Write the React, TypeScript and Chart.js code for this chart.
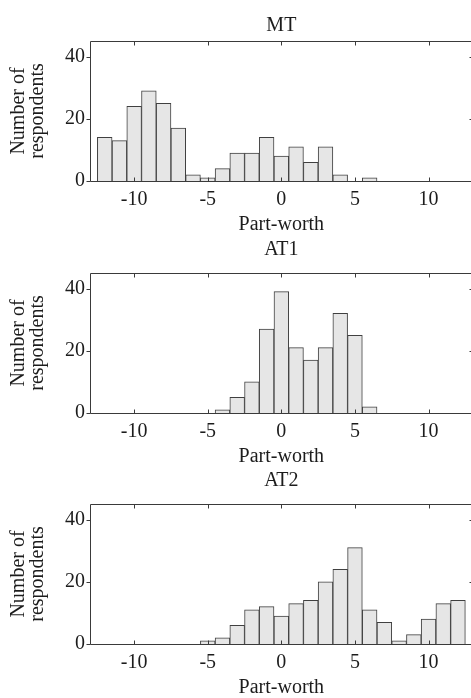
import React, { useEffect, useRef } from 'react';
import { Chart, registerables } from 'chart.js';

Chart.register(...registerables);

// Bin centres (part-worth) and respondent counts per panel
const BINS = [-12, -11, -10, -9, -8, -7, -6, -5, -4, -3, -2, -1, 0, 1, 2, 3, 4, 5, 6, 7, 8, 9, 10, 11, 12];
const MT_COUNTS = [14, 13, 24, 29, 25, 17, 2, 1, 4, 9, 9, 14, 8, 11, 6, 11, 2, 0, 1, 0, 0, 0, 0, 0, 0];
const AT1_COUNTS = [0, 0, 0, 0, 0, 0, 0, 0, 1, 5, 10, 27, 39, 21, 17, 21, 32, 25, 2, 0, 0, 0, 0, 0, 0];
const AT2_COUNTS = [0, 0, 0, 0, 0, 0, 0, 1, 2, 6, 11, 12, 9, 13, 14, 20, 24, 31, 11, 7, 1, 3, 8, 13, 14];

const PANEL_TITLES = ['MT', 'AT1', 'AT2'];
const X_TICKS = [-10, -5, 0, 5, 10];
const Y_TICKS = [0, 20, 40];
const X_LABEL = 'Part-worth';
const Y_LABEL = ['Number of', 'respondents'];

const FONT = 'Liberation Serif';
const TEXT = '#1c1c1c';

const framePlugin = {
  id: 'frame',
  afterDatasetsDraw(chart: any) {
    const { ctx, chartArea, scales } = chart;
    const { left, right, top, bottom } = chartArea;
    const x = scales.x;
    const y = scales.y;
    ctx.save();
    ctx.strokeStyle = '#3a3a3a';
    ctx.lineWidth = 1;
    const line = (x1: number, y1: number, x2: number, y2: number) => {
      ctx.beginPath();
      ctx.moveTo(x1, y1);
      ctx.lineTo(x2, y2);
      ctx.stroke();
    };
    const L = Math.round(left) + 0.5;
    const R = Math.round(right) + 0.5;
    const T = Math.round(top) + 0.5;
    const B = Math.round(bottom) + 0.5;
    line(L, T, R, T);
    line(L, B, R, B);
    line(L, T, L, B);
    line(R, T, R, B);
    X_TICKS.forEach((v) => {
      const px = Math.round(x.getPixelForValue(v)) + 0.5;
      line(px, B, px, B - 4);
      line(px, T, px, T + 4);
    });
    Y_TICKS.forEach((v) => {
      const py = Math.round(y.getPixelForValue(v)) + 0.5;
      line(L - 4, py, L, py);
      line(R, py, R - 4, py);
    });
    ctx.restore();
  },
};

function Panel({ title, counts, top, titlePad }: { title: string; counts: number[]; top: number; titlePad: { top: number; bottom: number } }) {
  const ref = useRef<HTMLCanvasElement | null>(null);
  useEffect(() => {
    if (!ref.current) return;
    const chart = new Chart(ref.current, {
      type: 'bar',
      data: {
        datasets: [
          {
            data: BINS.map((b, i) => ({ x: b, y: counts[i] })),
            backgroundColor: '#e6e6e6',
            borderColor: '#404040',
            borderWidth: 1,
            borderSkipped: 'start',
            barPercentage: 1,
            categoryPercentage: 1,
          } as any,
        ],
      },
      options: {
        responsive: false,
        animation: false,
        events: [],
        layout: { padding: { left: 0, right: 7.3, top: 0, bottom: 0 } },
        plugins: {
          legend: { display: false },
          tooltip: { enabled: false },
          title: {
            display: true,
            fullSize: false,
            text: title,
            color: TEXT,
            font: { family: FONT, size: 20, weight: 'normal', lineHeight: 1.2 },
            padding: titlePad,
          },
        },
        scales: {
          x: {
            type: 'linear',
            min: -13,
            max: 13,
            offset: false,
            grid: { display: false, drawTicks: false },
            border: { display: false },
            afterBuildTicks: (s: any) => {
              s.ticks = X_TICKS.map((v) => ({ value: v }));
            },
            afterFit: (s: any) => {
              s.height = 57;
            },
            ticks: {
              color: TEXT,
              padding: 7,
              maxRotation: 0,
              font: { family: FONT, size: 20, lineHeight: 1.2 },
              callback: (v: any) => String(v),
            },
            title: {
              display: true,
              text: X_LABEL,
              color: TEXT,
              font: { family: FONT, size: 20, lineHeight: 1.2 },
              padding: { top: 0, bottom: 1.5 },
            },
          },
          y: {
            type: 'linear',
            min: 0,
            max: 45,
            grid: { display: false, drawTicks: false },
            border: { display: false },
            afterBuildTicks: (s: any) => {
              s.ticks = Y_TICKS.map((v) => ({ value: v }));
            },
            afterFit: (s: any) => {
              s.width = 90;
            },
            ticks: {
              color: TEXT,
              padding: 5,
              font: { family: FONT, size: 20, lineHeight: 1.2 },
              callback: (v: any) => String(v),
            },
            title: {
              display: true,
              text: Y_LABEL,
              color: TEXT,
              font: { family: FONT, size: 20, lineHeight: 0.915 },
              padding: { top: 10, bottom: 0 },
            },
          },
        },
      },
      plugins: [framePlugin],
    } as any);
    return () => chart.destroy();
  }, [title, counts, titlePad]);
  return (
    <canvas
      ref={ref}
      width={480}
      height={238}
      style={{ position: 'absolute', left: 0, top, width: 480, height: 238 }}
    />
  );
}

const PAD_MT = { top: 13.3, bottom: 3.7 };
const PAD_AT = { top: 5.8, bottom: 11.2 };

export default function App() {
  return (
    <div
      style={{
        position: 'absolute',
        left: 0,
        top: 0,
        width: 471,
        height: 698,
        overflow: 'hidden',
        background: '#ffffff',
      }}
    >
      <Panel title={PANEL_TITLES[0]} counts={MT_COUNTS} top={0} titlePad={PAD_MT} />
      <Panel title={PANEL_TITLES[1]} counts={AT1_COUNTS} top={231.5} titlePad={PAD_AT} />
      <Panel title={PANEL_TITLES[2]} counts={AT2_COUNTS} top={463} titlePad={PAD_AT} />
    </div>
  );
}
